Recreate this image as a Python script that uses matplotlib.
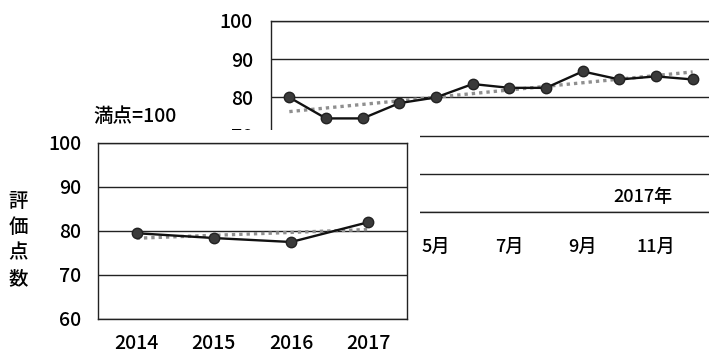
import numpy as np
import matplotlib
matplotlib.use("Agg")
import matplotlib.pyplot as plt

plt.rcParams['font.family'] = ['Noto Sans CJK JP', 'DejaVu Sans']
plt.rcParams['font.weight'] = 500

# 月別 (2017年)
months = np.arange(1, 13)
month_labels = ['1月', '3月', '5月', '7月', '9月', '11月']
month_score = [80.0, 74.5, 74.5, 78.5, 80.0, 83.5, 82.5, 82.5, 86.8, 84.7, 85.5, 84.7]

# 年別
years = ['2014', '2015', '2016', '2017']
year_score = [79.5, 78.4, 77.5, 82.0]

W, H = 709, 352
fig = plt.figure(figsize=(W / 100, H / 100), dpi=100)
fig.patch.set_facecolor('white')

def box(x0, y0, x1, y1):
    # ピクセル座標 (左上基準) -> figure座標
    return [x0 / W, 1 - y1 / H, (x1 - x0) / W, (y1 - y0) / H]

line_kw = dict(color='#111111', lw=1.7, marker='o', markersize=7.5,
               markerfacecolor='#3a3a3a', markeredgecolor='#222222', zorder=4)
trend_kw = dict(color='#8f8f8f', lw=2.4, linestyle=(0, (1, 1.2)), zorder=3)

def style(ax, pad_x, pad_y, fs_x):
    for s in ax.spines.values():
        s.set_color('#222222')
        s.set_linewidth(1.0)
    ax.tick_params(length=0, labelsize=14)
    ax.tick_params(axis='x', pad=pad_x, labelsize=fs_x)
    ax.tick_params(axis='y', pad=pad_y)
    ax.grid(axis='y', color='#222222', lw=1.0)
    ax.set_axisbelow(True)

# 月別グラフ (奥)
ax1 = fig.add_axes(box(271, 21, 711, 212), zorder=1)
ax1.plot(months, month_score, **line_kw)
c = np.polyfit(months, month_score, 1)
ax1.plot(months, np.polyval(c, months), **trend_kw)
ax1.set_xlim(0.5, 12.5)
ax1.set_ylim(50, 100)
ax1.set_yticks(np.arange(50, 101, 10))
ax1.set_xticks(months[::2])
ax1.set_xticklabels(month_labels)
style(ax1, 19, 13, 13)
ax1.text(11.45, 53.8, '2017年', ha='right', va='center', fontsize=13)

# 手前の白地
panel = fig.add_axes(box(0, 130, 420, 352), zorder=2)
panel.set_facecolor('white')
panel.set_xticks([])
panel.set_yticks([])
for s in panel.spines.values():
    s.set_visible(False)

# 年別グラフ (手前)
ax2 = fig.add_axes(box(98, 143, 407, 319), zorder=3)
xs = np.arange(len(years))
ax2.plot(xs, year_score, **line_kw)
c2 = np.polyfit(xs, year_score, 1)
ax2.plot(xs, np.polyval(c2, xs), **trend_kw)
ax2.set_xlim(-0.5, len(years) - 0.5)
ax2.set_ylim(60, 100)
ax2.set_yticks(np.arange(60, 101, 10))
ax2.set_xticks(xs)
ax2.set_xticklabels(years)
style(ax2, 11, 12, 14)

fig.text(135 / W, 1 - 116 / H, '満点=100', ha='center', va='center', fontsize=14)
fig.text(18 / W, 1 - 240 / H, '評\n価\n点\n数', ha='center', va='center',
         fontsize=14, linespacing=1.45, zorder=5)

fig.savefig('out.png', dpi=100)
